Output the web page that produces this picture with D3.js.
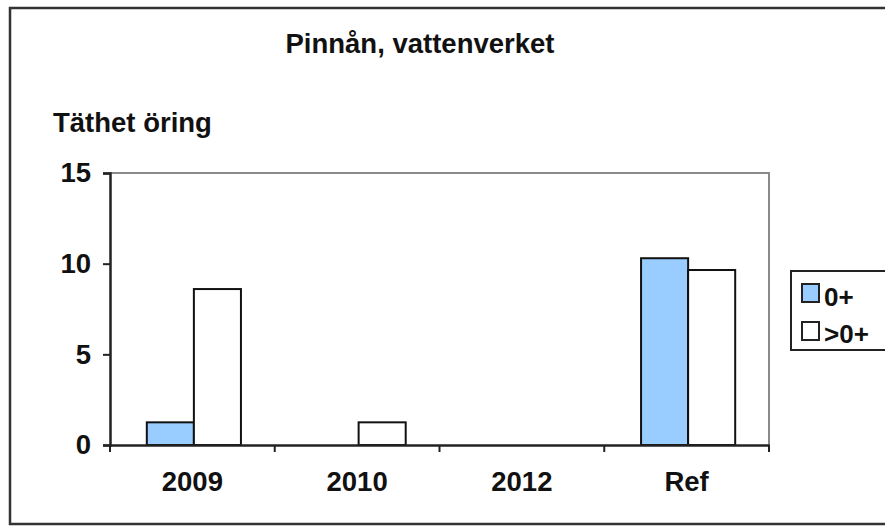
<!DOCTYPE html>
<html><head><meta charset="utf-8">
<script src="https://cdn.jsdelivr.net/npm/d3@7"></script>
<style>body{margin:0;background:#fff}svg{display:block}text{font-family:"Liberation Sans",Arial,sans-serif;font-weight:bold;fill:#111}</style>
</head><body><svg id="c" width="885" height="526"></svg>
<script>
const categories = ["2009", "2010", "2012", "Ref"];
const seriesNames = ["0+", ">0+"];
const values0 = [1.25, 0, 0, 10.3];
const values1 = [8.6, 1.25, 0, 9.65];
const yTicks = [0, 5, 10, 15];
const titleText = "Pinnån, vattenverket";
const yTitle = "Täthet öring";
const colors = ["#99CCFF", "#FFFFFF"];

const FS = 27.5;
const svg = d3.select("#c");
svg.append("rect").attr("width", 885).attr("height", 526).attr("fill", "#fff");
// outer chart border
svg.append("rect").attr("x", 10).attr("y", 8).attr("width", 900).attr("height", 516)
  .attr("fill", "none").attr("stroke", "#333").attr("stroke-width", 2.5);

const L = 110, R = 769, T = 173, B = 445;
const x = d3.scaleBand().domain(categories).range([L, R]).padding(0);
const bw = x.bandwidth() / 3.5;
const xs = d3.scaleBand().domain(seriesNames).range([x.bandwidth()/2 - bw + 1.5, x.bandwidth()/2 + bw + 1.5]).padding(0);
const y = d3.scaleLinear().domain([0, 15]).range([B, T]);

// plot area border (grey)
svg.append("path").attr("d", `M${L},${T}H${R}V${B}`).attr("fill", "none").attr("stroke", "#8a8a8a").attr("stroke-width", 2);

const data = categories.map((c, i) => ({c, v: [values0[i], values1[i]]}));
const g = svg.append("g");
data.forEach(d => {
  d.v.forEach((v, j) => {
    if (v <= 0) return;
    g.append("rect")
      .attr("x", x(d.c) + xs(seriesNames[j]))
      .attr("y", y(v))
      .attr("width", xs.bandwidth())
      .attr("height", y(0) - y(v))
      .attr("fill", colors[j]).attr("stroke", "#111").attr("stroke-width", 2);
  });
});

// y axis
const ya = svg.append("g").attr("transform", `translate(${L},0)`)
  .call(d3.axisLeft(y).tickValues(yTicks).tickSize(7).tickPadding(12).tickFormat(d3.format("d")));
ya.select(".domain").attr("stroke", "#222").attr("stroke-width", 2.5);
ya.selectAll(".tick line").attr("stroke", "#222").attr("stroke-width", 2);
ya.selectAll(".tick text").attr("font-size", FS).attr("font-family", "Liberation Sans, Arial").attr("font-weight", "bold").attr("fill", "#111");

// x axis
const xa = svg.append("g").attr("transform", `translate(0,${B})`)
  .call(d3.axisBottom(x).tickSize(0).tickPadding(26));
xa.select(".domain").attr("stroke", "#222").attr("stroke-width", 2.5);
xa.selectAll(".tick text").attr("font-size", FS).attr("font-family", "Liberation Sans, Arial").attr("font-weight", "bold").attr("fill", "#111").attr("dy", "0.71em");
// boundary ticks
const bounds = categories.map(c => x(c)).concat([R]);
svg.append("g").selectAll("line").data(bounds).join("line")
  .attr("x1", d => d).attr("x2", d => d).attr("y1", B).attr("y2", B + 7)
  .attr("stroke", "#222").attr("stroke-width", 2);

// titles
svg.append("text").attr("x", 420).attr("y", 53).attr("text-anchor", "middle").attr("font-size", FS).text(titleText);
svg.append("text").attr("x", 53).attr("y", 132).attr("font-size", FS).text(yTitle);

// legend
const lg = svg.append("g");
lg.append("rect").attr("x", 791).attr("y", 271).attr("width", 100).attr("height", 79)
  .attr("fill", "#fff").attr("stroke", "#222").attr("stroke-width", 2);
seriesNames.forEach((s, i) => {
  lg.append("rect").attr("x", 802).attr("y", 284 + i * 38).attr("width", 17).attr("height", 18)
    .attr("fill", colors[i]).attr("stroke", "#222").attr("stroke-width", 2);
  lg.append("text").attr("x", 824).attr("y", 306 + i * 37).attr("font-size", 26).text(s);
});
</script></body></html>
